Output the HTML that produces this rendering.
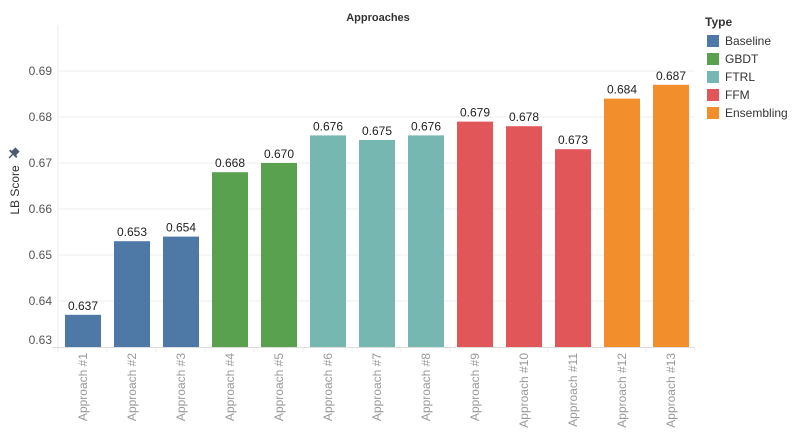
<!DOCTYPE html>
<html><head><meta charset="utf-8"><style>
body{margin:0;background:#fff;font-family:"Liberation Sans",sans-serif}
</style></head><body>
<svg id="c" width="800" height="435" xmlns="http://www.w3.org/2000/svg">
<text x="378" y="21" font-size="11" font-weight="bold" fill="#333" text-anchor="middle">Approaches</text>
<text transform="translate(19,190) rotate(-90)" font-size="12" fill="#333" text-anchor="middle">LB Score</text>
<g transform="translate(14,153) rotate(45)"><rect x="-3" y="-5" width="6" height="6" fill="#4e5a6e"/><rect x="-5" y="0" width="10" height="2" fill="#4e5a6e"/><rect x="-0.7" y="2" width="1.4" height="5" fill="#4e5a6e"/></g>
<g id="grid"></g><g id="bars"></g>
<g>
<text x="705" y="26" font-size="12" font-weight="bold" fill="#333">Type</text>
<g id="leg"></g></g>
</svg>
<script>
const categories=["Approach #1","Approach #2","Approach #3","Approach #4","Approach #5","Approach #6","Approach #7","Approach #8","Approach #9","Approach #10","Approach #11","Approach #12","Approach #13"];
const scores=[0.637,0.653,0.654,0.668,0.670,0.676,0.675,0.676,0.679,0.678,0.673,0.684,0.687];
const types=["Baseline","Baseline","Baseline","GBDT","GBDT","FTRL","FTRL","FTRL","FFM","FFM","FFM","Ensembling","Ensembling"];
const typeNames=["Baseline","GBDT","FTRL","FFM","Ensembling"];
const typeColors=["#4e79a7","#59a14f","#76b7b2","#e15759","#f28e2b"];
const yTicks=[0.63,0.64,0.65,0.66,0.67,0.68,0.69];
const NS="http://www.w3.org/2000/svg";
const y=v=>347-(v-0.63)*4600;
const x=i=>58+49*i;
function mk(t,a,p){const e=document.createElementNS(NS,t);for(const k in a)e.setAttribute(k,a[k]);p.appendChild(e);return e;}
const g=document.getElementById('grid'),b=document.getElementById('bars'),l=document.getElementById('leg');
mk('line',{x1:58,x2:58,y1:25,y2:352,stroke:'#eee'},g);
yTicks.forEach(t=>{
 if(t>0.63){const ln=mk('line',{x1:58,x2:695,y1:y(t),y2:y(t),stroke:'#eeeeee'},g);
 
 }
 const tx=mk('text',{x:52,y:y(t)+(t==0.63?-3:4),'font-size':12,fill:'#555','text-anchor':'end'},g);
 tx.textContent=t.toFixed(2);
 
 
});
mk('line',{x1:52,x2:695,y1:347.5,y2:347.5,stroke:'#ddd'},g);
categories.forEach((c,i)=>{
 const col=typeColors[typeNames.indexOf(types[i])];
 const r=mk('rect',{x:x(i)+7,y:y(scores[i]),width:36,height:347-y(scores[i]),fill:col},b);
 
 
 const v=mk('text',{x:x(i)+25,y:y(scores[i])-5,'font-size':12,fill:'#222','text-anchor':'middle'},b);
 v.textContent=scores[i].toFixed(3);
 
 
 mk('line',{x1:x(i+1),x2:x(i+1),y1:348,y2:352,stroke:'#eee'},b);
 const xl=mk('text',{transform:`translate(${x(i)+29},353) rotate(-90)`,'font-size':12,fill:'#999','text-anchor':'end'},b);
 xl.textContent=c;
 
 
});
typeNames.forEach((n,i)=>{
 const s=mk('rect',{x:707,y:35+18*i,width:12,height:12,fill:typeColors[i]},l);
 
 
 const t=mk('text',{x:725,y:45+18*i,'font-size':12,fill:'#333'},l);
 t.textContent=n;
 
 
});
</script>
</body></html>
